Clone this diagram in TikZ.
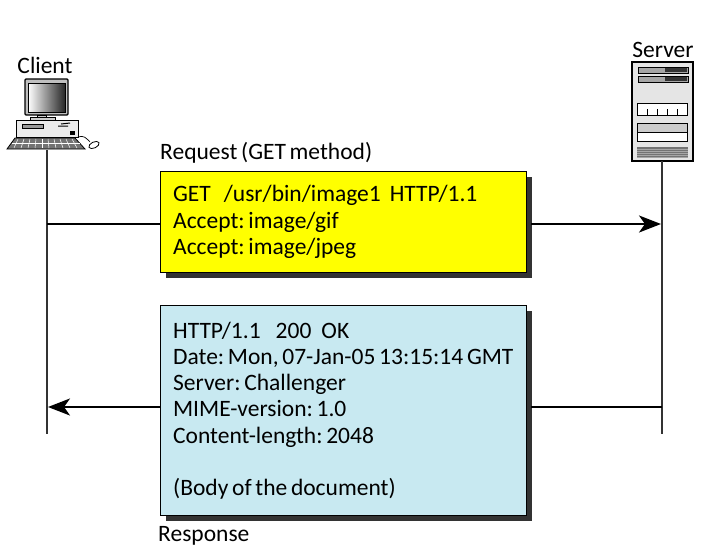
\documentclass[tikz,border=0pt]{standalone}
\usepackage{fontspec}
\setmainfont[WordSpace=0.7]{Carlito}
\usetikzlibrary{arrows.meta,shadows}
\definecolor{reqyellow}{RGB}{255,255,0}
\definecolor{resblue}{RGB}{200,233,241}
\tikzset{
  msgbox/.style={draw=black,line width=1.3pt,anchor=north west,minimum width=366pt,inner xsep=12.5pt,inner ysep=0pt,
    text width=341pt,align=flush left,font=\fontsize{23.5}{26.3}\selectfont\frenchspacing,
    drop shadow={shadow xshift=5pt,shadow yshift=-5pt,fill=black!80,opacity=1}},
  caption/.style={font=\fontsize{23.5}{26}\selectfont,inner sep=0pt},
  lifeline/.style={line width=1.2pt,black!80},
  msgline/.style={line width=2.4pt},
  msgarrow/.style={msgline,-{Stealth[length=22pt,width=17pt,inset=6pt]}},
  part/.style={draw=black,line width=0.8pt}
}
\begin{document}
\begin{tikzpicture}[x=1pt,y=-1pt]
\useasboundingbox (0,0) rectangle (723,552);
\node[caption] (client) at (45,65){Client};
\node[caption] (server) at (663,50){Server};
\node[caption,anchor=west] (request) at (160,153){Request (GET method)};
\node[caption,anchor=west] (response) at (158,536){Response};
\node[msgbox,fill=reqyellow,minimum height=101pt] (reqbox) at (160,171){GET\hspace*{13pt}/usr/bin/image1\hspace*{9pt}HTTP/1.1\\Accept: image/gif\\Accept: image/jpeg};
\node[msgbox,fill=resblue,minimum height=210pt] (resbox) at (160,305){HTTP/1.1\hspace*{15pt}200\hspace*{10pt}OK\\Date: Mon, 07-Jan-05 13:15:14 GMT\\Server: Challenger\\MIME-version: 1.0\\Content-length: 2048\\~\\(Body of the document)};
% client computer
\draw[part,line width=1.2pt,fill=black!25,rounded corners=1pt] (25,79) rectangle (68,115);
\shade[left color=white,right color=black!85,draw=black] (28,83) rectangle (65,112);
\draw[part,fill=black!20] (37,115) rectangle (46,119);
\draw[part,fill=black!20] (30,117) rectangle (55,120);
\draw[part,fill=black!8] (16,120) rectangle (78,137);
\draw[part,fill=black!40] (22,124) rectangle (43,128);
\draw[line width=1pt] (58,126) -- (68,126) (61,124) -- (70,123);
\draw[fill=black] (70,131) rectangle (74,134);
\draw[part,fill=black!55] (15,138) -- (75,138) -- (85,149) -- (7,149) -- cycle;
\foreach \k in {0,...,9}
  \draw[white,line width=0.5pt] (18+\k*6,139) -- (14+\k*7,148);
\draw[white,line width=0.5pt] (12,143) -- (80,143);
\draw[line width=0.7pt] (78,137) .. controls (84,135) and (86,138) .. (90,142);
\draw[part,fill=white,rotate around={25:(94,145)}] (94,145) ellipse (5.5 and 3);
% server
\draw[line width=1.6pt,fill=black!10] (632,62) rectangle (693,161);
\foreach \y in {67,76}{
  \draw[part,fill=black!35] (638,\y) rectangle (688,\y+6);
  \fill[black!80] (665,\y+1) rectangle (687,\y+5);
}
\draw[part,fill=white] (637,103) rectangle (687,115);
\foreach \x in {647,657,667,677}
  \draw[line width=0.8pt] (\x,115) -- (\x,109);
\draw[part,fill=white] (637,123) rectangle (687,141);
\draw[part,fill=black!20] (637,123) rectangle (687,132);
\fill[black!55] (637,147) rectangle (688,158);
\foreach \y in {149,151,...,157}
  \draw[black!35,line width=0.5pt] (637,\y) -- (688,\y);
% lifelines and messages
\coordinate (clienttop) at (47,150);
\coordinate (clientend) at (47,434);
\coordinate (servertop) at (662,161);
\coordinate (serverend) at (662,434);
\coordinate (reqfrom) at (47,224);
\coordinate (reqin) at (160,224);
\coordinate (reqout) at (531,224);
\coordinate (reqto) at (661,224);
\coordinate (resfrom) at (662,407);
\coordinate (resin) at (531,407);
\coordinate (resout) at (160,407);
\coordinate (resto) at (48,407);
\draw[lifeline] (clienttop) -- (clientend);
\draw[lifeline] (servertop) -- (serverend);
\draw[msgline] (reqfrom) -- (reqin);
\draw[msgarrow] (reqout) -- (reqto);
\draw[msgline] (resfrom) -- (resin);
\draw[msgarrow] (resout) -- (resto);
\end{tikzpicture}
\end{document}
